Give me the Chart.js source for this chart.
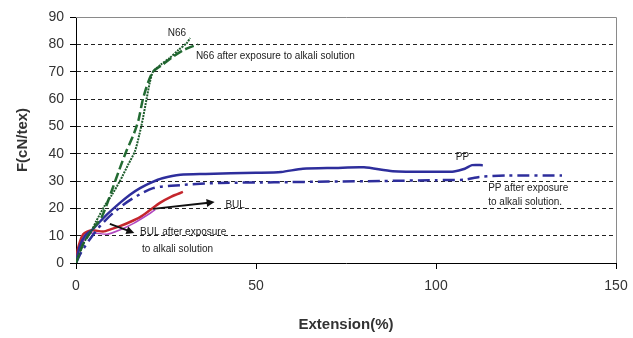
<!DOCTYPE html>
<html>
<head>
<meta charset="utf-8">
<script src="https://cdn.jsdelivr.net/npm/chart.js@4"></script>
<style>
  html, body { margin: 0; padding: 0; background: #fff; }
  #wrap { width: 633px; height: 338px; }
</style>
</head>
<body>
<div id="wrap"><canvas id="chart" width="633" height="338"></canvas></div>
<script>
// axis ticks
const xTicks = [0, 50, 100, 150];
const yTicks = [0, 10, 20, 30, 40, 50, 60, 70, 80, 90];

// N66
const n66Ext   = [0, 2, 4.4, 5.5, 8, 10, 12.2, 14.5, 16.4, 17.6, 18.6, 19.6, 20.5, 21.4, 23.5, 26, 28.5, 30.8, 31.7];
const n66Force = [0, 7, 12, 15, 21, 25, 30, 36, 41, 47, 53, 60, 66, 70, 72.5, 75, 78, 80.5, 82.3];
// N66 after exposure to alkali solution
const n66AExt   = [0, 2, 4.4, 7.2, 10, 12, 14, 16, 17.3, 18.6, 20, 21.4, 24, 27, 30, 33.9];
const n66AForce = [0, 7, 12, 17, 26.7, 34, 41, 47, 52, 60, 66, 70, 72.5, 75.5, 78, 80];
// PP
const ppExt   = [0, 1, 2.5, 4.4, 8, 12.2, 15, 17.8, 21, 24, 29, 36, 50, 57, 63, 72, 80, 88, 100, 105, 108, 110, 113];
const ppForce = [0, 6, 10, 12, 17, 22, 25, 27.4, 29.5, 31, 32.3, 32.6, 33, 33.3, 34.5, 34.8, 35, 33.6, 33.4, 33.5, 34.5, 35.8, 35.8];
// PP after exposure to alkali solution
const ppAExt   = [0, 1.5, 4, 7, 10.3, 15, 21.4, 29, 40, 55, 70, 85, 100, 108, 112, 120, 135];
const ppAForce = [0, 4, 9, 14, 18.3, 23, 27.4, 28.5, 29.3, 29.5, 29.8, 30, 30.3, 30.5, 31.5, 32, 32];
// BUL
const bulExt   = [0, 0.5, 2, 4.4, 7.5, 10, 12.2, 15, 17.8, 20.5, 23.3, 26.5, 29.7];
const bulForce = [0, 5, 10.5, 12, 11.5, 12.5, 13.5, 15, 16.8, 19.3, 22, 24.3, 26];
// BUL after exposure to alkali solution
const bulAExt   = [0, 1, 3, 5, 8.6, 12, 16, 20.6, 22];
const bulAForce = [0, 5, 10, 11, 10.5, 12, 14.5, 18.2, 19.5];

function toPoints(xs, ys) {
    return xs.map((x, i) => ({ x: x, y: ys[i] }));
}

// text notes placed in data space
const notes = [
    { text: 'N66', x: 25.5, y: 84, align: 'left' },
    { text: 'N66 after exposure to alkali solution', x: 33.3, y: 75.7, align: 'left' },
    { text: 'PP', x: 105.5, y: 38.8, align: 'left' },
    { text: 'PP after exposure', x: 114.5, y: 27.2, align: 'left' },
    { text: 'to alkali solution.', x: 114.5, y: 22.2, align: 'left' },
    { text: 'BUL', x: 41.5, y: 21.3, align: 'left' },
    { text: 'BUL after exposure', x: 17.8, y: 11.3, align: 'left' },
    { text: 'to alkali solution', x: 18.3, y: 5.1, align: 'left' }
];
const arrows = [
    { x1: 21.4, y1: 19.8, x2: 38.5, y2: 22.3 },
    { x1: 9.4, y1: 14.3, x2: 16.2, y2: 11 }
];

const notesPlugin = {
    id: 'notes',
    afterDatasetsDraw(chart) {
        const ctx = chart.ctx;
        const xs = chart.scales.x, ys = chart.scales.y;
        const area = chart.chartArea;
        ctx.save();
        // frame
        ctx.strokeStyle = '#8a8a8a';
        ctx.lineWidth = 1;
        ctx.beginPath();
        ctx.moveTo(area.left, area.top + 0.5);
        ctx.lineTo(area.right + 0.5, area.top + 0.5);
        ctx.lineTo(area.right + 0.5, area.bottom);
        ctx.stroke();

        ctx.fillStyle = '#222';
        ctx.font = '10px "Liberation Sans", Arial, sans-serif';
        ctx.textBaseline = 'middle';
        notes.forEach(n => {
            ctx.textAlign = n.align;
            ctx.fillText(n.text, xs.getPixelForValue(n.x), ys.getPixelForValue(n.y));
        });

        ctx.strokeStyle = '#111';
        ctx.fillStyle = '#111';
        ctx.lineWidth = 2;
        arrows.forEach(a => {
            const x1 = xs.getPixelForValue(a.x1), y1 = ys.getPixelForValue(a.y1);
            const x2 = xs.getPixelForValue(a.x2), y2 = ys.getPixelForValue(a.y2);
            const ang = Math.atan2(y2 - y1, x2 - x1);
            ctx.beginPath();
            ctx.moveTo(x1, y1);
            ctx.lineTo(x2 - 6 * Math.cos(ang), y2 - 6 * Math.sin(ang));
            ctx.stroke();
            ctx.beginPath();
            ctx.moveTo(x2, y2);
            ctx.lineTo(x2 - 8 * Math.cos(ang) + 4 * Math.sin(ang), y2 - 8 * Math.sin(ang) - 4 * Math.cos(ang));
            ctx.lineTo(x2 - 8 * Math.cos(ang) - 4 * Math.sin(ang), y2 - 8 * Math.sin(ang) + 4 * Math.cos(ang));
            ctx.closePath();
            ctx.fill();
        });
        ctx.restore();
    }
};

const tickFont = { family: '"Liberation Sans", Arial, sans-serif', size: 14 };
const titleFont = { family: '"Liberation Sans", Arial, sans-serif', size: 15, weight: 'bold' };

new Chart(document.getElementById('chart').getContext('2d'), {
    type: 'line',
    data: {
        datasets: [
            { label: 'N66', data: toPoints(n66Ext, n66Force), borderColor: '#1d5c2c', borderWidth: 2, borderDash: [2, 1] },
            { label: 'N66 after exposure to alkali solution', data: toPoints(n66AExt, n66AForce), borderColor: '#226b32', borderWidth: 2.5, borderDash: [9, 4] },
            { label: 'PP', data: toPoints(ppExt, ppForce), borderColor: '#2e2e9c', borderWidth: 2.5 },
            { label: 'PP after exposure to alkali solution', data: toPoints(ppAExt, ppAForce), borderColor: '#2e2e9c', borderWidth: 2.5, borderDash: [12, 5, 3, 5] },
            { label: 'BUL after exposure to alkali solution', data: toPoints(bulAExt, bulAForce), borderColor: '#b048c0', borderWidth: 1.5 },
            { label: 'BUL', data: toPoints(bulExt, bulForce), borderColor: '#c4262c', borderWidth: 2.5 }
        ]
    },
    options: {
        responsive: false,
        animation: false,
        elements: { point: { radius: 0 }, line: { tension: 0.25, fill: false } },
        layout: { padding: { left: 0, top: 17, right: 17, bottom: 0 } },
        plugins: { legend: { display: false }, tooltip: { enabled: false } },
        scales: {
            x: {
                type: 'linear',
                min: 0, max: 150,
                afterBuildTicks: s => { s.ticks = xTicks.map(v => ({ value: v })); },
                afterFit: s => { s.height = 75; s.paddingRight = 0; s.paddingLeft = 0; },
                grid: { drawOnChartArea: false, drawTicks: true, tickLength: 6, tickColor: '#000' },
                border: { color: '#000', width: 1 },
                ticks: { color: '#333', font: tickFont, padding: 9, maxRotation: 0 },
                title: { display: true, text: 'Extension(%)', color: '#333', font: titleFont, padding: { top: 10, bottom: 4 } }
            },
            y: {
                min: 0, max: 90,
                afterBuildTicks: s => { s.ticks = yTicks.map(v => ({ value: v })); },
                afterFit: s => { s.width = 76; },
                grid: {
                    color: c => (c.tick && (c.tick.value === 0 || c.tick.value === 90)) ? 'rgba(0,0,0,0)' : '#222',
                    lineWidth: 1,
                    drawTicks: true, tickLength: 6, tickColor: '#000'
                },
                border: { color: '#000', width: 1, dash: [4, 3] },
                ticks: { color: '#333', font: tickFont, padding: 6 },
                title: { display: true, text: 'F(cN/tex)', color: '#333', font: titleFont, padding: { top: 14, bottom: 0 } }
            }
        }
    },
    plugins: [notesPlugin]
});
</script>
</body>
</html>
